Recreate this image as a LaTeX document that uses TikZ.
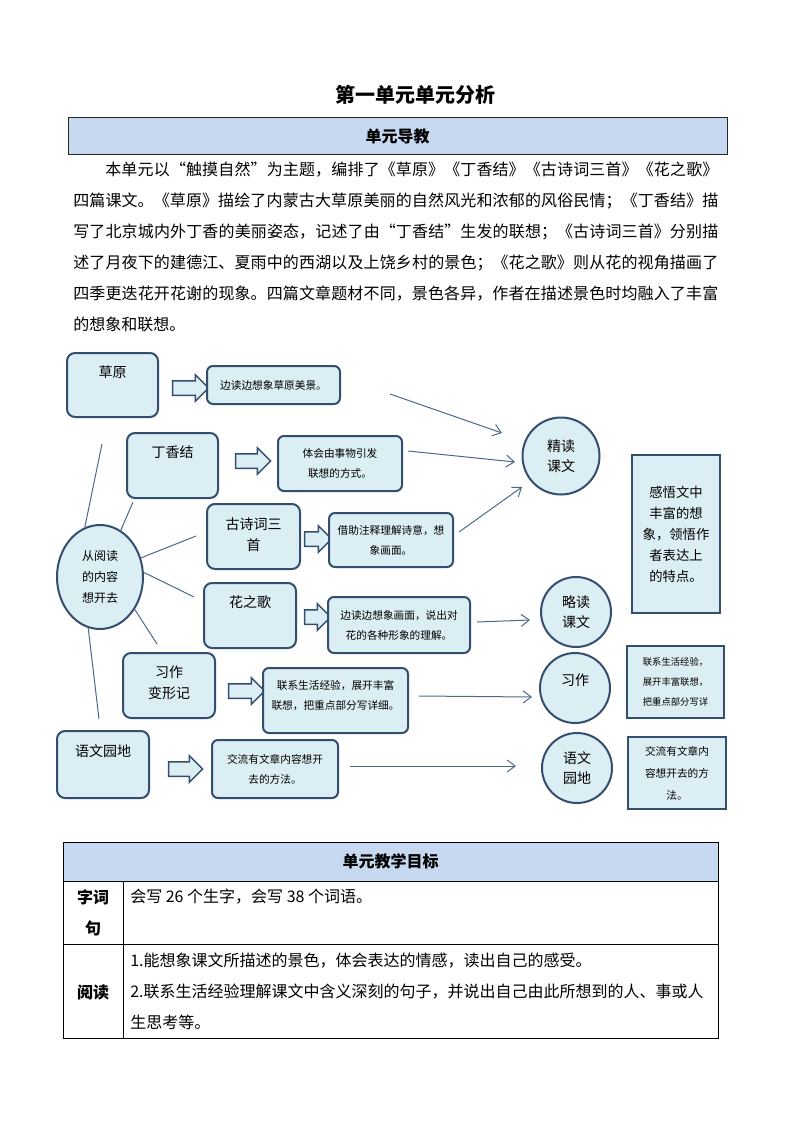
\documentclass[tikz,border=0pt]{standalone}
\usepackage{fontspec}
\setmainfont{Noto Sans CJK SC}
\usetikzlibrary{shapes.geometric,shapes.arrows,arrows.meta}
\XeTeXlinebreaklocale "zh"
\XeTeXlinebreakskip=0pt plus 1pt
\definecolor{boxfill}{RGB}{219,238,244}
\definecolor{boxline}{RGB}{52,78,112}
\definecolor{headfill}{RGB}{198,217,241}
\definecolor{flowline}{RGB}{78,104,140}
\newcommand{\px}{0.75pt}
\newcommand{\shaft}{\rule{0pt}{9.75pt}}

\begin{document}
\begin{tikzpicture}[x=0.75pt, y=-0.75pt,
  topic/.style={rectangle, rounded corners=8*\px, draw=boxline, fill=boxfill, line width=2*\px},
  tag/.style={inner sep=0pt, align=center, font=\fontsize{10.5}{15.75}\selectfont},
  note/.style={rectangle, rounded corners=6*\px, draw=boxline, fill=boxfill, line width=2*\px, inner sep=0pt, align=center, font=\fontsize{8}{15}\selectfont},
  fatarrow/.style={single arrow, draw=boxline, fill=boxfill, line width=1.5*\px, single arrow head extend=6*\px, inner sep=0pt},
  readcircle/.style={circle, draw=boxline, fill=boxfill, line width=2*\px, inner sep=0pt, align=center, font=\fontsize{10.5}{15}\selectfont},
  sumbox/.style={rectangle, draw=boxline, fill=boxfill, line width=2*\px, inner sep=0pt, align=center},
  link/.style={draw=flowline, line width=1*\px},
  flow/.style={draw=flowline, line width=1*\px, -{Straight Barb[length=6pt, width=9pt]}},
  body/.style={inner sep=0pt, font=\fontsize{12}{23.25}\selectfont}
]
\useasboundingbox[fill=white] (0,0) rectangle (794,1123);

% Title and unit guide
\node[font=\bfseries\fontsize{15}{18}\selectfont] (title) at (415.5,95) {第一单元单元分析};
\node[rectangle, draw=black!85, fill=headfill, line width=1*\px, minimum width=659*\px, minimum height=37*\px, font=\bfseries\fontsize{12}{14}\selectfont] (guide) at (397.5,136.5) {单元导教};

\node[body, anchor=north west, text width=645*\px, align=justify] (intro) at (73,162) {\hspace*{2em}本单元以“触摸自然”为主题，编排了《草原》《丁香结》《古诗词三首》《花之歌》\linebreak
四篇课文。《草原》描绘了内蒙古大草原美丽的自然风光和浓郁的风俗民情；《丁香结》描\linebreak
写了北京城内外丁香的美丽姿态，记述了由“丁香结”生发的联想；《古诗词三首》分别描\linebreak
述了月夜下的建德江、夏雨中的西湖以及上饶乡村的景色；《花之歌》则从花的视角描画了\linebreak
四季更迭花开花谢的现象。四篇文章题材不同，景色各异，作者在描述景色时均融入了丰富\linebreak
的想象和联想。};

% Lessons
\node[topic, minimum width=91*\px, minimum height=64*\px] (caoyuan) at (112.5,385) {};
\node[tag] at ([yshift=-15pt]caoyuan.north) {草原};
\node[topic, minimum width=91*\px, minimum height=65*\px] (dingxiang) at (172.5,465.5) {};
\node[tag] at ([yshift=-15pt]dingxiang.north) {丁香结};
\node[topic, minimum width=93*\px, minimum height=65*\px] (gushi) at (253.5,536.5) {};
\node[tag] at ([yshift=-23.6pt]gushi.north) {古诗词三\\首};
\node[topic, minimum width=92*\px, minimum height=65*\px] (huazhi) at (250,615.5) {};
\node[tag] at ([yshift=-15pt]huazhi.north) {花之歌};
\node[topic, minimum width=92*\px, minimum height=65*\px] (xizuo) at (169,685.5) {};
\node[tag] at ([yshift=-22.9pt]xizuo.north) {习作\\变形记};
\node[topic, minimum width=92*\px, minimum height=67*\px] (yuanwen) at (103,764.5) {};
\node[tag] at ([yshift=-15.75pt]yuanwen.north) {语文园地};

% Hub
\node[ellipse, draw=boxline, fill=boxfill, line width=2*\px, minimum width=86*\px, minimum height=104*\px, inner sep=0pt, align=center, font=\fontsize{9}{15.75}\selectfont] (yuedu) at (100,577) {从阅读\\的内容\\想开去};

% Block arrows
\node[fatarrow, minimum height=36*\px] (ar-cy) at (187,388) {\shaft};
\node[fatarrow, minimum height=35*\px] (ar-dx) at (249.5,461) {\shaft};
\node[fatarrow, minimum height=27*\px] (ar-gs) at (314.5,539) {\shaft};
\node[fatarrow, minimum height=26*\px] (ar-hz) at (314,617) {\shaft};
\node[fatarrow, minimum height=36*\px] (ar-xz) at (243,691) {\shaft};
\node[fatarrow, minimum height=34*\px] (ar-yw) at (182,769) {\shaft};

% Reading notes
\node[note, minimum width=133*\px, minimum height=38*\px] (n-cy) at (273.5,385) {边读边想象草原美景。};
\node[note, minimum width=124*\px, minimum height=55*\px] (n-dx) at (340,463.5) {体会由事物引发\\联想的方式。};
\node[note, minimum width=124*\px, minimum height=54*\px] (n-gs) at (391,540) {借助注释理解诗意，想\\象画面。};
\node[note, minimum width=142*\px, minimum height=56*\px] (n-hz) at (399,625) {边读边想象画面，说出对\\花的各种形象的理解。};
\node[note, minimum width=145*\px, minimum height=65*\px] (n-xz) at (335.5,700.5) {联系生活经验，展开丰富\\联想，把重点部分写详细。\\[-6pt]};
\node[note, minimum width=126*\px, minimum height=58*\px] (n-yw) at (275,769) {交流有文章内容想开\\去的方法。};

% Lesson types
\node[readcircle, minimum size=77*\px] (jingdu) at (561,456) {精读\\课文};
\node[readcircle, minimum size=70*\px] (lvedu) at (576,612) {略读\\课文};
\node[readcircle, minimum size=70*\px] (xizuoc) at (575,688) {};
\node[tag] at ([yshift=6pt]xizuoc.center) {习作};
\node[readcircle, minimum size=70*\px] (yuanwenc) at (577,768) {语文\\园地};

% Summaries
\node[sumbox, minimum width=88*\px, minimum height=158*\px, font=\fontsize{10}{15.75}\selectfont] (ganwu) at (676,534) {感悟文中\\丰富的想\\象，领悟作\\者表达上\\的特点。};
\node[sumbox, minimum width=97*\px, minimum height=72*\px, font=\fontsize{7}{15}\selectfont] (s-xz) at (675.5,682) {联系生活经验，\\展开丰富联想，\\把重点部分写详};
\node[sumbox, minimum width=98*\px, minimum height=72*\px, font=\fontsize{8}{16.5}\selectfont] (s-yw) at (677,773) {交流有文章内\\容想开去的方\\法。};

% Links from the hub
\coordinate (l-caoyuan) at (102,444);
\coordinate (l-dingxiang) at (133,502);
\coordinate (l-gushi) at (196,536);
\coordinate (l-huazhi) at (194,597);
\coordinate (l-xizuo) at (157,644);
\coordinate (l-yuanwen) at (99,719);
\draw[link] (yuedu.107) -- (l-caoyuan);
\draw[link] (yuedu.66) -- (l-dingxiang);
\draw[link] (yuedu.25) -- (l-gushi);
\draw[link] (yuedu.6) -- (l-huazhi);
\draw[link] (yuedu.-43) -- (l-xizuo);
\draw[link] (yuedu.-103) -- (l-yuanwen);

% Flows to lesson types
\coordinate (cy-out) at (390,394);
\coordinate (dx-out) at (408,451);
\coordinate (gs-out) at (459,532);
\coordinate (hz-out) at (477,622);
\coordinate (xz-out) at (419,696);
\coordinate (yw-out) at (350,766);
\coordinate (jd-in1) at (502,433);
\coordinate (jd-in2) at (515,462);
\coordinate (jd-in3) at (522,487);
\coordinate (ld-in) at (530,620);
\coordinate (xz-in) at (532,697);
\coordinate (yw-in) at (516,766);
\draw[flow] (cy-out) -- (jd-in1);
\draw[flow] (dx-out) -- (jd-in2);
\draw[flow] (gs-out) -- (jd-in3);
\draw[flow] (hz-out) -- (ld-in);
\draw[flow] (xz-out) -- (xz-in);
\draw[flow] (yw-out) -- (yw-in);

% Teaching goals table
\draw[line width=1*\px, fill=headfill] (63,842) rectangle (718,881);
\draw[line width=1*\px] (63,881) rectangle (718,1038);
\draw[line width=1*\px] (63,944) -- (718,944);
\draw[line width=1*\px] (123,881) -- (123,1038);
\node[body, font=\bfseries\fontsize{12}{14}\selectfont] (goal) at (390.5,861.5) {单元教学目标};
\node[body, align=center, font=\bfseries\fontsize{12}{23.25}\selectfont] (ciju) at (93,912.5) {字词\\句};
\node[body, font=\bfseries\fontsize{12}{14}\selectfont] (yuedu-row) at (93,992) {阅读};
\node[body, anchor=west] (row1) at (130,897) {会写 26 个生字，会写 38 个词语。};
\node[body, anchor=north west, align=left] (row2) at (130,953) {1.能想象课文所描述的景色，体会表达的情感，读出自己的感受。\\2.联系生活经验理解课文中含义深刻的句子，并说出自己由此所想到的人、事或人\\生思考等。};

\end{tikzpicture}
\end{document}
